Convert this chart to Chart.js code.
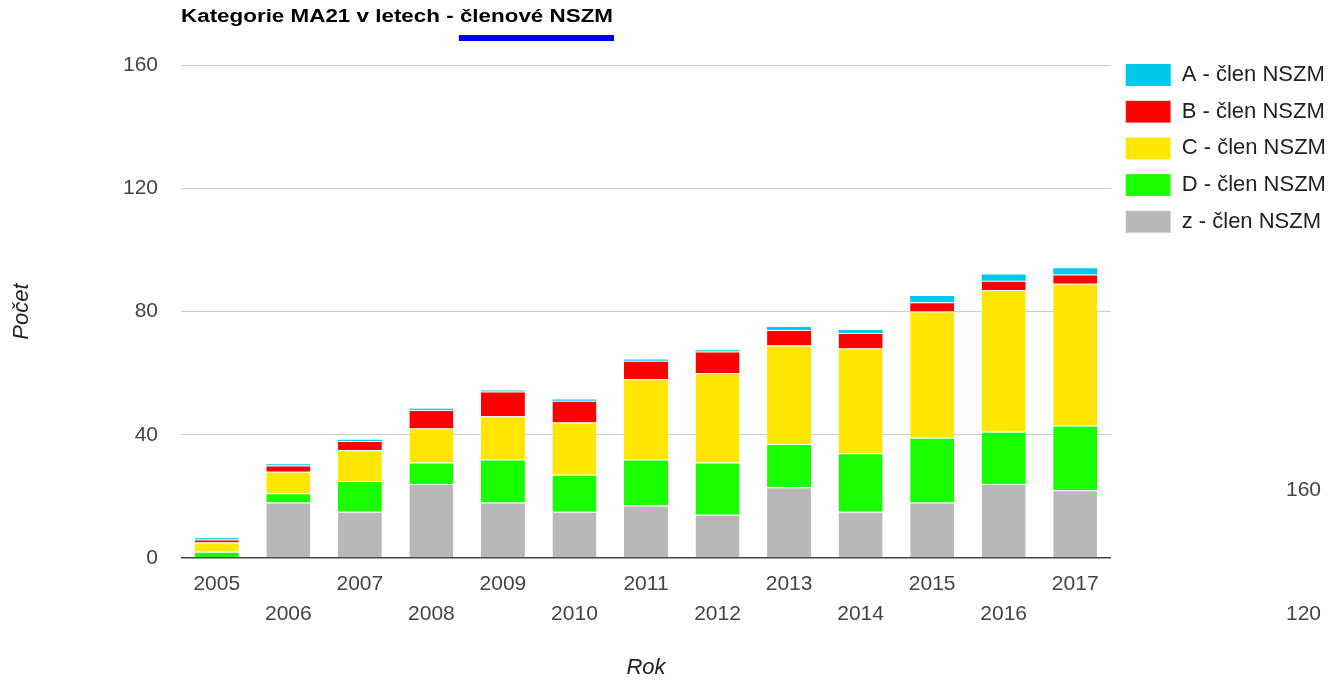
<!DOCTYPE html>
<html>
<head>
<meta charset="utf-8">
<script src="https://cdn.jsdelivr.net/npm/chart.js@4/dist/chart.umd.min.js"></script>
<style>
html,body{margin:0;padding:0;background:#fff;}
canvas{display:block;}
</style>
</head>
<body>
<canvas id="c" width="1335" height="681"></canvas>
<script>
// ---- data ----
const years = ['2005','2006','2007','2008','2009','2010','2011','2012','2013','2014','2015','2016','2017'];
const seriesNames = ['z - člen NSZM','D - člen NSZM','C - člen NSZM','B - člen NSZM','A - člen NSZM'];
const valuesZ = [0, 18, 15, 24, 18, 15, 17, 14, 23, 15, 18, 24, 22];
const valuesD = [2, 3, 10, 7, 14, 12, 15, 17, 14, 19, 21, 17, 21];
const valuesC = [3, 7, 10, 11, 14, 17, 26, 29, 32, 34, 41, 46, 46];
const valuesB = [1, 2, 3, 6, 8, 7, 6, 7, 5, 5, 3, 3, 3];
const valuesA = [0.4, 0.4, 0.4, 0.4, 0.4, 0.4, 0.4, 0.4, 1, 1, 2, 2, 2];
const seriesColors = ['#b8b8b8','#1aff00','#ffe600','#ff0000','#00c8ea'];
const yTickValues = [0, 40, 80, 120, 160];
const strayTickLabels = ['160', '120'];
const titleMain = 'Kategorie MA21 v letech - ';
const titleHighlight = 'členové NSZM';
const yTitle = 'Počet';
const xTitle = 'Rok';

const FONT = '"Liberation Sans", Arial, sans-serif';
Chart.defaults.font.family = FONT;

const seriesValues = [valuesZ, valuesD, valuesC, valuesB, valuesA];
const datasets = seriesValues.map((vals, i) => ({
  label: seriesNames[i],
  data: vals,
  backgroundColor: seriesColors[i],
  borderColor: '#ffffff',
  borderWidth: i === 4 ? 0 : {top: 1, left: 0, right: 0, bottom: 0},
  borderSkipped: 'start',
  barPercentage: 0.615,
  categoryPercentage: 1.0
}));

const extras = {
  id: 'extras',
  beforeLayout(chart) {
    const lg = chart.legend;
    if (lg && !lg._wrapped) {
      const f = lg.fit;
      lg.fit = function () { f.call(this); this.width = 224; };
      lg._wrapped = true;
    }
  },
  afterDraw(chart) {
    const ctx = chart.ctx;
    ctx.save();
    ctx.font = 'bold 18px ' + FONT;
    const full = titleMain + titleHighlight;
    const w = ctx.measureText(full).width;
    const w1 = ctx.measureText(titleMain).width;
    const sx = 432 / w;
    ctx.save();
    ctx.translate(181, 22);
    ctx.scale(sx, 1);
    ctx.fillStyle = '#000000';
    ctx.textBaseline = 'alphabetic';
    ctx.textAlign = 'left';
    ctx.fillText(full, 0, 0);
    ctx.restore();
    ctx.fillStyle = '#0000f0';
    ctx.fillRect(181 + w1 * sx - 1, 35, (w - w1) * sx + 2, 6);
    // stray tick labels at bottom right
    ctx.font = '21px ' + FONT;
    ctx.fillStyle = '#444444';
    ctx.textAlign = 'right';
    ctx.textBaseline = 'middle';
    ctx.fillText(strayTickLabels[0], 1321, 490);
    ctx.fillText(strayTickLabels[1], 1321, 614);
    ctx.restore();
  }
};

new Chart(document.getElementById('c'), {
  type: 'bar',
  data: { labels: years, datasets: datasets },
  plugins: [extras],
  options: {
    responsive: false,
    animation: false,
    devicePixelRatio: 1,
    layout: { padding: { top: 49.3, right: 0, bottom: 0, left: 0 } },
    plugins: {
      title: { display: true, text: ' ', font: { size: 10, lineHeight: 1 }, padding: { top: 5.7, bottom: 0 }, color: 'rgba(0,0,0,0)' },
      legend: {
        position: 'right',
        align: 'start',
        reverse: true,
        labels: {
          boxWidth: 45,
          boxHeight: 22,
          padding: 14.7,
          color: '#222222',
          font: { size: 22, family: FONT }
        }
      },
      tooltip: { enabled: false }
    },
    scales: {
      x: {
        stacked: true,
        grid: { display: false, drawTicks: false },
        border: { display: false },
        ticks: {
          autoSkip: false,
          maxRotation: 0,
          minRotation: 0,
          padding: 11.2,
          color: '#444444',
          font: { size: 21, lineHeight: 1.43, family: FONT },
          callback: function (v, i) { return i % 2 === 0 ? years[i] : ['', years[i]]; }
        },
        title: {
          display: true,
          text: xTitle,
          color: '#222222',
          font: { size: 22, style: 'italic', family: FONT },
          padding: { top: 0, bottom: 0 }
        },
        afterFit: function (s) { s.height = 123; }
      },
      y: {
        stacked: true,
        min: 0,
        max: 160,
        afterBuildTicks: function (s) { s.ticks = yTickValues.map(v => ({ value: v })); },
        grid: {
          drawTicks: false,
          color: ctx => (ctx.tick && ctx.tick.value === 0) ? '#444444' : '#cccccc',
          lineWidth: ctx => (ctx.tick && ctx.tick.value === 0) ? 1.6 : 1
        },
        border: { display: false },
        ticks: {
          padding: 23,
          color: '#444444',
          font: { size: 21, family: FONT }
        },
        title: {
          display: true,
          text: yTitle,
          color: '#222222',
          font: { size: 22, style: 'italic', family: FONT },
          padding: { top: 9, bottom: 0 }
        },
        afterFit: function (s) { s.width = 181; }
      }
    }
  }
});
</script>
</body>
</html>
